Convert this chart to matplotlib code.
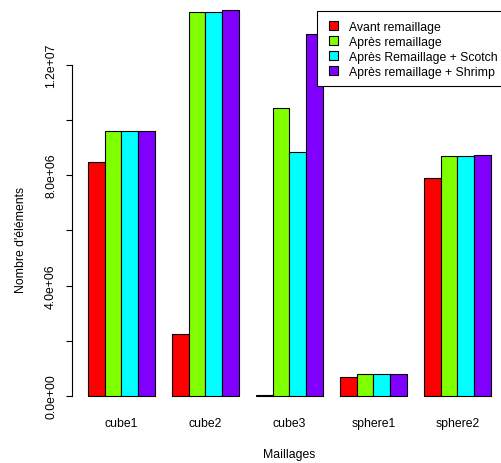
import matplotlib
matplotlib.use("Agg")
import matplotlib.pyplot as plt
from matplotlib.patches import Rectangle
import numpy as np

categories = ["cube1", "cube2", "cube3", "sphere1", "sphere2"]
series_names = ["Avant remaillage", "Après remaillage",
                "Après Remaillage + Scotch", "Après remaillage + Shrimp"]
avant = [8.47e6, 2.25e6, 0.05e6, 0.68e6, 7.89e6]
apres = [9.61e6, 13.91e6, 10.42e6, 0.79e6, 8.71e6]
scotch = [9.61e6, 13.91e6, 8.84e6, 0.79e6, 8.71e6]
shrimp = [9.61e6, 13.97e6, 13.12e6, 0.79e6, 8.73e6]
series = [avant, apres, scotch, shrimp]
colors = ["#FF0000", "#80FF00", "#00FFFF", "#8000FF"]
yticks = [0, 2e6, 4e6, 6e6, 8e6, 10e6, 12e6]
ytick_labels = ["0.0e+00", "", "4.0e+06", "", "8.0e+06", "", "1.2e+07"]

plt.rcParams['font.family'] = ['Liberation Sans', 'DejaVu Sans']
FS = 8.8
W, H = 501, 464
fig = plt.figure(figsize=(W / 100, H / 100), dpi=100)

# axes placement in pixels
x0_px, x1_px = 71.6, 507.1
y_zero_px = 397.0
px_per_unit = 27.6e-6
ylo, yhi = -0.5e6, 14.5e6
bot_px = y_zero_px - ylo * px_per_unit
top_px = y_zero_px - yhi * px_per_unit
ax = fig.add_axes([x0_px / W, (H - bot_px) / H, (x1_px - x0_px) / W, (bot_px - top_px) / H])
ax.set_xlim(0.04, 25.96)
ax.set_ylim(ylo, yhi)
for s in ax.spines.values():
    s.set_visible(False)

centers = []
for i in range(len(categories)):
    for j, vals in enumerate(series):
        left = 1 + 5 * i + j
        ax.bar(left, vals[i], width=1, align='edge', color=colors[j],
               edgecolor='black', linewidth=0.8)
    centers.append(1 + 5 * i + 2)

# y axis line
ax.plot([0.04, 0.04], [0, 12e6], color='black', lw=0.8, clip_on=False)
ax.set_yticks(yticks)
ax.set_yticklabels(ytick_labels, rotation=90, va='center', fontsize=FS)
ax.tick_params(axis='y', length=4.5, width=0.8, pad=6)
ax.set_xticks(centers)
ax.set_xticklabels(categories, fontsize=FS)
ax.tick_params(axis='x', length=0, pad=5)

fig.text(21 / W, 1 - 240 / H, "Nombre d'éléments", rotation=90, ha='center',
         va='center', fontsize=FS)
fig.text(289 / W, 1 - 455 / H, "Maillages", ha='center', va='center', fontsize=FS)

# legend box (manual, figure coordinates in pixels)
def fx(p):
    return p / W

def fy(p):
    return 1 - p / H

fig.add_artist(Rectangle((fx(316.7), fy(87.3)), fx(520) - fx(316.7), fy(11.7) - fy(87.3),
                         transform=fig.transFigure, facecolor='white',
                         edgecolor='black', linewidth=0.8))
rows = [26.3, 41.3, 56.5, 71.6]
for name, c, yc in zip(series_names, colors, rows):
    fig.add_artist(Rectangle((fx(328.5), fy(yc + 4.3)), fx(337.5) - fx(328.5),
                             fy(yc - 4.3) - fy(yc + 4.3), transform=fig.transFigure,
                             facecolor=c, edgecolor='black', linewidth=0.8))
    fig.text(fx(349.3), fy(yc), name, ha='left', va='center_baseline', fontsize=FS)

fig.savefig("out.png", dpi=100)
